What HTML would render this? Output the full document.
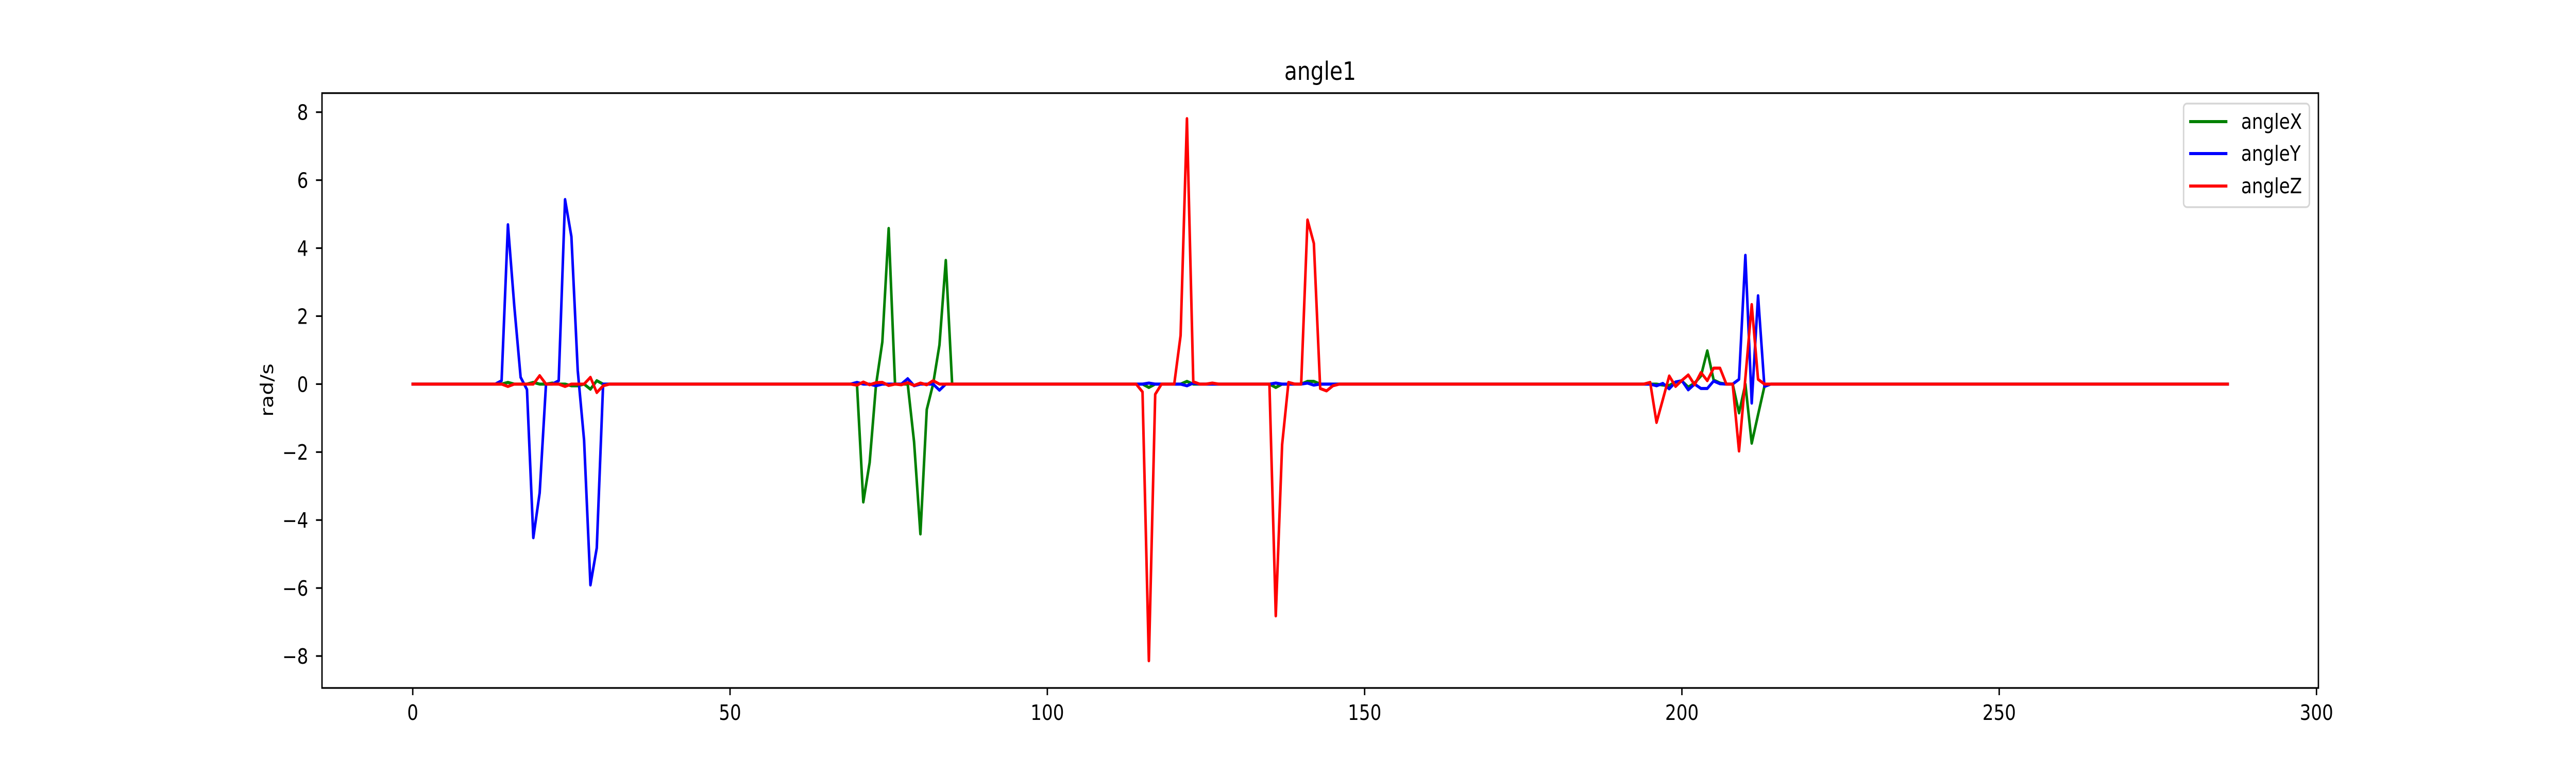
<!DOCTYPE html>
<html><head><meta charset="utf-8"><style>
html,body{margin:0;padding:0;background:#fff;width:100%;height:100%;overflow:hidden;}
svg{display:block;position:absolute;left:0;top:0;width:100vw;height:100vh;font-family:"DejaVu Sans","Liberation Sans",sans-serif;}
</style></head><body>
<svg id="chart" viewBox="0 0 6000 1500" preserveAspectRatio="none" xmlns="http://www.w3.org/2000/svg">
<rect x="0" y="0" width="6000" height="1500" fill="#fff"/>
<g id="plot"></g>
<g id="axes"></g>
<text x="3075" y="155" font-size="49" text-anchor="middle">angle1</text>
<text transform="translate(636,757) rotate(-90)" font-size="41" text-anchor="middle">rad/s</text>
<g>
<rect x="5086" y="201" width="293" height="201" rx="8" fill="#fff" fill-opacity="0.8" stroke="#d6d6d6" stroke-width="3.5"/>
<line x1="5099" y1="236" x2="5188" y2="236" stroke="#008000" stroke-width="6"/>
<text x="5220" y="250" font-size="41">angleX</text>
<line x1="5099" y1="298" x2="5188" y2="298" stroke="#0000ff" stroke-width="6"/>
<text x="5220" y="312" font-size="41">angleY</text>
<line x1="5099" y1="361" x2="5188" y2="361" stroke="#ff0000" stroke-width="6"/>
<text x="5220" y="375" font-size="41">angleZ</text>
</g>
</svg>
<script>
const xTicks = [0, 50, 100, 150, 200, 250, 300];
const yTicks = [-8, -6, -4, -2, 0, 2, 4, 6, 8];
const angleX = [
0,0,0,0,0,0,0,0,0,0,0,0,0,0,0,0.05,0,0,0,0.05,
0,0,0.03,0,0,-0.05,-0.05,0,-0.15,0.1,0,0,0,0,0,0,0,0,0,0,
0,0,0,0,0,0,0,0,0,0,0,0,0,0,0,0,0,0,0,0,
0,0,0,0,0,0,0,0,0,0,0,-3.47,-2.31,-0.03,1.24,4.58,0,0,0,-1.7,
-4.41,-0.75,0,1.15,3.64,0,0,0,0,0,0,0,0,0,0,0,0,0,0,0,
0,0,0,0,0,0,0,0,0,0,0,0,0,0,0,0,-0.1,0,0,0,
0,0,0.08,0,0,0,0,0,0,0,0,0,0,0,0,0,-0.1,0,0,0,
0,0.08,0.08,0,0,0,0,0,0,0,0,0,0,0,0,0,0,0,0,0,
0,0,0,0,0,0,0,0,0,0,0,0,0,0,0,0,0,0,0,0,
0,0,0,0,0,0,0,0,0,0,0,0,0,0,0,0,0,-0.03,-0.04,0.06,
0.09,-0.09,0.03,0.24,0.98,0.12,0.03,0,0,-0.85,0,-1.74,-0.9,-0.07,0,0,0,0,0,0,
0,0,0,0,0,0,0,0,0,0,0,0,0,0,0,0,0,0,0,0,
0,0,0,0,0,0,0,0,0,0,0,0,0,0,0,0,0,0,0,0,
0,0,0,0,0,0,0,0,0,0,0,0,0,0,0,0,0,0,0,0,
0,0,0,0,0,0,0];
const angleY = [
0,0,0,0,0,0,0,0,0,0,0,0,0,0,0.1,4.69,2.3,0.2,-0.16,-4.52,
-3.2,0,0,0.1,5.43,4.34,0.4,-1.65,-5.91,-4.82,0,0,0,0,0,0,0,0,0,0,
0,0,0,0,0,0,0,0,0,0,0,0,0,0,0,0,0,0,0,0,
0,0,0,0,0,0,0,0,0,0,0.05,0,0,-0.05,0,0,0,0,0.16,-0.05,
0,0,0,-0.18,0,0,0,0,0,0,0,0,0,0,0,0,0,0,0,0,
0,0,0,0,0,0,0,0,0,0,0,0,0,0,0,0,0.03,0,0,0,
0,0,-0.05,0.03,0,0,0,0,0,0,0,0,0,0,0,0,0.03,0,0,0,
0,0.03,-0.03,0,0,0,0,0,0,0,0,0,0,0,0,0,0,0,0,0,
0,0,0,0,0,0,0,0,0,0,0,0,0,0,0,0,0,0,0,0,
0,0,0,0,0,0,0,0,0,0,0,0,0,0,0,0,-0.05,0.02,-0.14,0.06,
0.1,-0.17,0,-0.13,-0.13,0.09,0.01,0,0,0.14,3.79,-0.56,2.6,-0.07,0,0,0,0,0,0,
0,0,0,0,0,0,0,0,0,0,0,0,0,0,0,0,0,0,0,0,
0,0,0,0,0,0,0,0,0,0,0,0,0,0,0,0,0,0,0,0,
0,0,0,0,0,0,0,0,0,0,0,0,0,0,0,0,0,0,0,0,
0,0,0,0,0,0,0];
const angleZ = [
0,0,0,0,0,0,0,0,0,0,0,0,0,0,0,-0.07,0,0,0,0,
0.25,0,0,0,-0.07,0,0,0,0.2,-0.25,-0.05,0,0,0,0,0,0,0,0,0,
0,0,0,0,0,0,0,0,0,0,0,0,0,0,0,0,0,0,0,0,
0,0,0,0,0,0,0,0,0,0,-0.03,0.06,-0.02,0.04,0.05,-0.04,0,-0.02,0.04,-0.04,
0.03,-0.02,0.1,0,0,0,0,0,0,0,0,0,0,0,0,0,0,0,0,0,
0,0,0,0,0,0,0,0,0,0,0,0,0,0,0,-0.23,-8.14,-0.3,0,0,
0,1.43,7.81,0.07,0,0,0.03,0,0,0,0,0,0,0,0,0,-6.82,-1.78,0.05,0,
0,4.83,4.14,-0.13,-0.2,-0.05,0,0,0,0,0,0,0,0,0,0,0,0,0,0,
0,0,0,0,0,0,0,0,0,0,0,0,0,0,0,0,0,0,0,0,
0,0,0,0,0,0,0,0,0,0,0,0,0,0,0,0.05,-1.13,-0.45,0.24,-0.07,
0.11,0.27,-0.02,0.34,0.1,0.47,0.47,0,0,-1.97,0.18,2.34,0.14,0,0,0,0,0,0,0,
0,0,0,0,0,0,0,0,0,0,0,0,0,0,0,0,0,0,0,0,
0,0,0,0,0,0,0,0,0,0,0,0,0,0,0,0,0,0,0,0,
0,0,0,0,0,0,0,0,0,0,0,0,0,0,0,0,0,0,0,0,
0,0,0,0,0,0,0];

const NS = "http://www.w3.org/2000/svg";
const L = 750, R = 5400, T = 180.7, B = 1335;
function xMin(){ return 0 - 0.05 * (angleX.length - 1); }
function xMax(){ return (angleX.length - 1) * 1.05; }
const yLo = -8.94, yHi = 8.56;
function sx(v){ return L + (v - xMin()) / (xMax() - xMin()) * (R - L); }
function sy(v){ return B - (v - yLo) / (yHi - yLo) * (B - T); }

const plot = document.getElementById('plot');
const axes = document.getElementById('axes');

function drawSeries(arr, color, name){
  const p = document.createElementNS(NS, 'polyline');
  p.setAttribute('points', arr.map((v, i) => sx(i).toFixed(2) + ',' + sy(v).toFixed(2)).join(' '));
  p.setAttribute('fill', 'none');
  p.setAttribute('stroke', color);
  p.setAttribute('stroke-width', '6');
  p.setAttribute('stroke-linejoin', 'round');
  p.setAttribute('stroke-linecap', 'square');
  
  
  plot.appendChild(p);
}
drawSeries(angleX, '#008000', 'line-anglex');
drawSeries(angleY, '#0000ff', 'line-angley');
drawSeries(angleZ, '#ff0000', 'line-anglez');

const frame = document.createElementNS(NS, 'rect');
frame.setAttribute('x', L); frame.setAttribute('y', T);
frame.setAttribute('width', R - L); frame.setAttribute('height', B - T);
frame.setAttribute('fill', 'none'); frame.setAttribute('stroke', '#000'); frame.setAttribute('stroke-width', '3.3');


axes.appendChild(frame);

xTicks.forEach(t => {
  const x = sx(t);
  const ln = document.createElementNS(NS, 'line');
  ln.setAttribute('x1', x); ln.setAttribute('x2', x);
  ln.setAttribute('y1', B); ln.setAttribute('y2', B + 14);
  ln.setAttribute('stroke', '#000'); ln.setAttribute('stroke-width', '3.3');
  
  
  axes.appendChild(ln);
  const tx = document.createElementNS(NS, 'text');
  tx.setAttribute('x', x); tx.setAttribute('y', 1397);
  tx.setAttribute('font-size', '41'); tx.setAttribute('text-anchor', 'middle');
  tx.textContent = String(t);
  
  
  axes.appendChild(tx);
});
yTicks.forEach(t => {
  const y = sy(t);
  const ln = document.createElementNS(NS, 'line');
  ln.setAttribute('x1', L - 14); ln.setAttribute('x2', L);
  ln.setAttribute('y1', y); ln.setAttribute('y2', y);
  ln.setAttribute('stroke', '#000'); ln.setAttribute('stroke-width', '3.3');
  
  
  axes.appendChild(ln);
  const tx = document.createElementNS(NS, 'text');
  tx.setAttribute('x', 718); tx.setAttribute('y', y + 15);
  tx.setAttribute('font-size', '41'); tx.setAttribute('text-anchor', 'end');
  tx.textContent = t < 0 ? '\u2212' + Math.abs(t) : String(t);
  
  
  axes.appendChild(tx);
});
</script>
</body></html>
